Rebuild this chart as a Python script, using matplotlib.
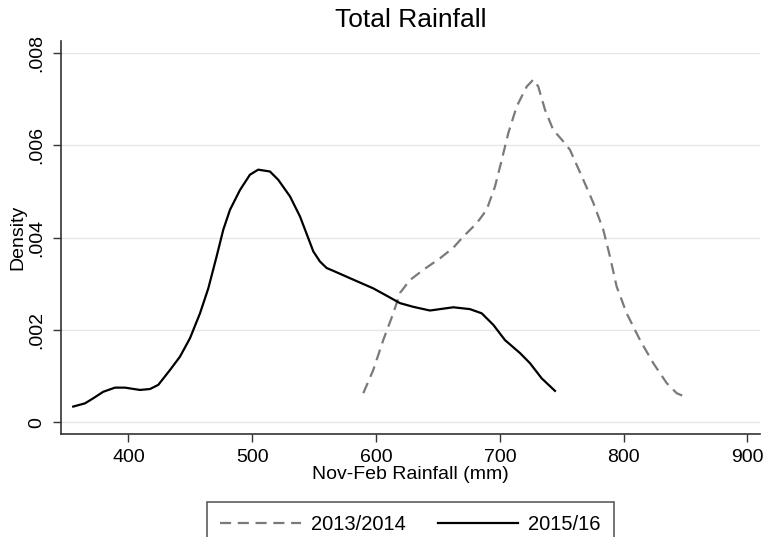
import matplotlib
matplotlib.use("Agg")
import matplotlib.pyplot as plt

plt.rcParams['font.family'] = ['Liberation Sans', 'DejaVu Sans']

# density curves
rain_1314 = [589.7, 597.7, 605.8, 613.9, 619.3, 627.4, 638.1, 651.6, 662.4, 670.4, 681.3,
             689.3, 696.0, 701.5, 706.8, 713.6, 721.7, 727.0, 731.0, 736.4, 743.1, 750.0,
             756.6, 767.4, 775.5, 783.5, 788.9, 794.3, 802.4, 813.2, 823.9, 834.7, 842.8,
             852.2]
dens_1314 = [0.00063, 0.00113, 0.00178, 0.00236, 0.00280, 0.00308, 0.00330, 0.00355,
             0.00378, 0.00402, 0.00431, 0.00460, 0.00510, 0.00568, 0.00626, 0.00684,
             0.00727, 0.00742, 0.00727, 0.00677, 0.00633, 0.00612, 0.00590, 0.00525,
             0.00475, 0.00417, 0.00359, 0.00294, 0.00236, 0.00178, 0.00128, 0.00085,
             0.00063, 0.00052]

rain_1516 = [355.4, 364.9, 371.6, 379.6, 389.1, 397.2, 409.3, 417.4, 424.1, 433.5, 441.6,
             449.7, 457.8, 464.5, 471.2, 476.6, 482.0, 490.1, 498.1, 504.8, 514.3, 521.0,
             530.5, 538.5, 545.2, 549.3, 554.7, 560.1, 565.4, 578.9, 597.7, 608.6, 619.3,
             630.0, 643.5, 662.4, 675.8, 685.3, 694.7, 704.1, 716.2, 724.3, 733.8, 744.5]
dens_1516 = [0.00034, 0.00041, 0.00052, 0.00066, 0.00075, 0.00075, 0.00070, 0.00072,
             0.00081, 0.00113, 0.00142, 0.00182, 0.00236, 0.00290, 0.00359, 0.00417,
             0.00460, 0.00503, 0.00536, 0.00547, 0.00543, 0.00525, 0.00489, 0.00446,
             0.00399, 0.00370, 0.00348, 0.00334, 0.00328, 0.00312, 0.00290, 0.00274,
             0.00258, 0.00250, 0.00242, 0.00249, 0.00245, 0.00236, 0.00211, 0.00178,
             0.00150, 0.00128, 0.00095, 0.00068]

labels = ['2013/2014', '2015/16']
xticks = [400, 500, 600, 700, 800, 900]
yticks = [0, 0.002, 0.004, 0.006, 0.008]
ytick_labels = ['0', '.002', '.004', '.006', '.008']

fig = plt.figure(figsize=(7.66, 5.37), dpi=100)
ax = fig.add_axes([0.0796, 0.1918, 0.9124, 0.7322])

for y in yticks:
    ax.axhline(y, color='#e6e6e6', lw=1.0, zorder=0)

ax.plot(rain_1314, dens_1314, color='#7a7a7a', lw=1.6, dashes=(5, 3), label=labels[0])
ax.plot(rain_1516, dens_1516, color='black', lw=1.6, label=labels[1])

ax.set_xlim(345.5, 910)
ax.set_ylim(-0.000254, 0.00826)
ax.set_xticks(xticks)
ax.set_yticks(yticks)
ax.set_yticklabels(ytick_labels, rotation=90, va='center')
ax.tick_params(axis='both', direction='out', length=6, width=1, labelsize=14, color='#333333')
ax.tick_params(axis='x', pad=5)
ax.tick_params(axis='y', pad=5)

for s in ['top', 'right']:
    ax.spines[s].set_visible(False)
for s in ['left', 'bottom']:
    ax.spines[s].set_color('#333333')
    ax.spines[s].set_linewidth(1.2)

ax.set_title('Total Rainfall', fontsize=19, pad=10)
ax.set_xlabel('Nov-Feb Rainfall (mm)', fontsize=14, labelpad=0)
ax.set_ylabel('Density', fontsize=14, labelpad=2)

# legend box runs off the bottom edge like the original
leg = fig.legend(loc='upper center', bbox_to_anchor=(0.536, 0.066), ncol=2, fontsize=14.5,
                 handlelength=4.0, handletextpad=0.5, columnspacing=1.6,
                 frameon=True, fancybox=False, borderpad=0.65, borderaxespad=0)
leg.get_frame().set_edgecolor('#333333')
leg.get_frame().set_linewidth(1.2)

fig.savefig('out.png', dpi=100)
